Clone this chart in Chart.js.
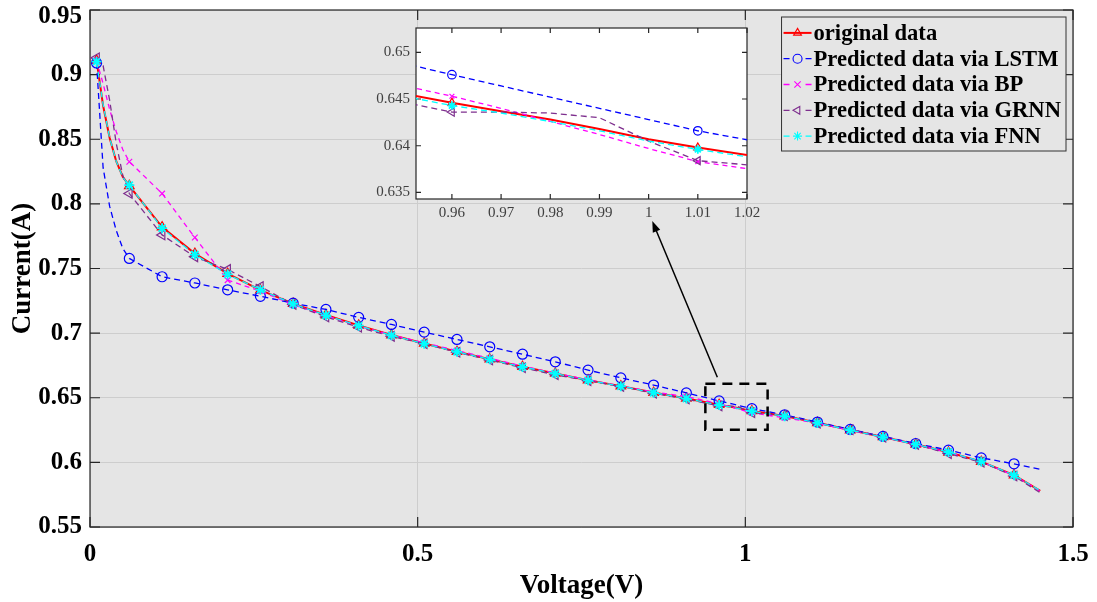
<!DOCTYPE html>
<html>
<head>
<meta charset="utf-8">
<script src="https://cdn.jsdelivr.net/npm/chart.js@4"></script>
<style>
  body { margin: 0; background: #fff; }
  #wrap { position: relative; width: 1097px; height: 602px; }
  #mainChart { position: absolute; left: 0; top: 0; }
  #insetChart { position: absolute; left: 360px; top: 15px; }
</style>
</head>
<body>
<div id="wrap">
  <canvas id="mainChart" width="1097" height="602"></canvas>
  <canvas id="insetChart" width="400" height="215"></canvas>
</div>
<script>
// voltage samples (markers sit on 0.01 + 0.05k)
const voltage = [0.01, 0.02, 0.03, 0.04, 0.05, 0.06, 0.11, 0.16, 0.21, 0.26, 0.31, 0.36, 0.41, 0.46,
  0.51, 0.56, 0.61, 0.66, 0.71, 0.76, 0.81, 0.86, 0.91, 0.96, 0.97, 0.98, 0.99, 1.00, 1.01,
  1.06, 1.11, 1.16, 1.21, 1.26, 1.31, 1.36, 1.41, 1.45];

const originalData = [0.911, 0.876, 0.851, 0.833, 0.821, 0.814, 0.782, 0.7615, 0.746, 0.7333, 0.7228, 0.714, 0.706, 0.6985,
  0.692, 0.6857, 0.6798, 0.674, 0.6688, 0.6636, 0.659, 0.654, 0.6495, 0.6446, 0.6437, 0.6428, 0.6418, 0.6407, 0.6398,
  0.6358, 0.6306, 0.625, 0.6197, 0.614, 0.6078, 0.6006, 0.5902, 0.578];
const lstmData = [0.909, 0.828, 0.798, 0.7795, 0.7655, 0.7578, 0.7436, 0.7388, 0.7335, 0.7285, 0.7232, 0.7183, 0.7122, 0.7067,
  0.7008, 0.6951, 0.6894, 0.6837, 0.6778, 0.6714, 0.6654, 0.6598, 0.6538, 0.6476, 0.6464, 0.6452, 0.644, 0.6428, 0.6416,
  0.6368, 0.6312, 0.6255, 0.6201, 0.6146, 0.6095, 0.6035, 0.5989, 0.5946];
const bpData = [0.911, 0.893, 0.873, 0.856, 0.842, 0.8326, 0.808, 0.774, 0.741, 0.7325, 0.722, 0.7135, 0.7055, 0.6985,
  0.6925, 0.6865, 0.6805, 0.6745, 0.669, 0.664, 0.659, 0.6545, 0.651, 0.6453, 0.644, 0.6426, 0.6412, 0.6397, 0.6383,
  0.6345, 0.6303, 0.6247, 0.6195, 0.6138, 0.6076, 0.6005, 0.5898, 0.5778];
const grnnData = [0.913, 0.907, 0.880, 0.847, 0.822, 0.808, 0.776, 0.759, 0.7493, 0.736, 0.7222, 0.7125, 0.7045, 0.6975,
  0.6918, 0.6852, 0.6792, 0.6732, 0.6678, 0.6632, 0.6588, 0.6535, 0.649, 0.6436, 0.6436, 0.6435, 0.643, 0.6405, 0.6384,
  0.6362, 0.6303, 0.6252, 0.6195, 0.6138, 0.6068, 0.6002, 0.5895, 0.5765];
const fnnData = [0.910, 0.877, 0.851, 0.833, 0.8205, 0.8145, 0.7812, 0.7608, 0.7455, 0.7335, 0.7226, 0.7138, 0.7058, 0.6983,
  0.6918, 0.6855, 0.6797, 0.6738, 0.6687, 0.6635, 0.6589, 0.6539, 0.6494, 0.6443, 0.6435, 0.6426, 0.6416, 0.6405, 0.6396,
  0.6357, 0.6305, 0.6249, 0.6196, 0.6139, 0.608, 0.6007, 0.5901, 0.5781];

const seriesNames = ['original data', 'Predicted data via LSTM', 'Predicted data via BP',
  'Predicted data via GRNN', 'Predicted data via FNN'];

const xTicks = [0, 0.5, 1, 1.5];
const yTicks = [0.55, 0.6, 0.65, 0.7, 0.75, 0.8, 0.85, 0.9, 0.95];
const insetXTicks = [0.96, 0.97, 0.98, 0.99, 1, 1.01, 1.02];
const insetYTicks = [0.635, 0.64, 0.645, 0.65];

// zoomed window (x0, x1, y0, y1) and the arrow to the inset, in data units
const zoomBox = [0.939, 1.034, 0.6253, 0.6609];
const arrowFrom = [0.9573, 0.6659];
const arrowTo = [0.858, 0.7867];

const serif = "'Liberation Serif', 'Times New Roman', serif";

const styles = [
  { color: '#ff0000', dash: [], width: 2, point: 'triangle', rot: 0, r: 5.5 },
  { color: '#0000ff', dash: [6, 4], width: 1.3, point: 'circle', rot: 0, r: 5 },
  { color: '#ff00ff', dash: [5, 4], width: 1.3, point: 'crossRot', rot: 0, r: 4 },
  { color: '#7e2f8e', dash: [6, 4], width: 1.3, point: 'triangle', rot: -90, r: 5.5 },
  { color: '#00ffff', dash: [6, 4], width: 1.3, point: 'star', rot: 0, r: 5 }
];

function hasMarker(i) {
  const v = voltage[i];
  return Math.round((v - 0.01) * 100) % 5 === 0 && v < 1.42;
}

function fmt(v) {
  return String(+(+v).toFixed(3));
}

function makeDatasets(markerScale) {
  return [originalData, lstmData, bpData, grnnData, fnnData].map((vals, s) => ({
    label: seriesNames[s],
    data: voltage.map((v, i) => ({ x: v, y: vals[i] })),
    borderColor: styles[s].color,
    borderWidth: styles[s].width,
    borderDash: styles[s].dash,
    pointStyle: styles[s].point,
    pointRotation: styles[s].rot,
    pointBorderColor: styles[s].color,
    pointBackgroundColor: 'rgba(0,0,0,0)',
    pointBorderWidth: s === 4 ? 1.8 : 1.2,
    pointRadius: ctx => hasMarker(ctx.dataIndex) ? styles[s].r * markerScale : 0,
    pointHoverRadius: 0,
    tension: 0,
    fill: false,
    order: 4 - s
  }));
}

// keep chart area where the layout padding puts it (no room for overflowing labels)
function fixX(h) {
  return s => { s.height = h; s.paddingLeft = 0; s.paddingRight = 0; };
}
function fixY(w) {
  return s => { s.width = w; s.paddingTop = 0; s.paddingBottom = 0; };
}

// fill plot area
const plotBg = {
  id: 'plotBg',
  beforeDraw(chart, args, opts) {
    const { ctx, chartArea: a } = chart;
    ctx.save();
    ctx.fillStyle = opts.color;
    ctx.fillRect(a.left, a.top, a.right - a.left, a.bottom - a.top);
    ctx.restore();
  }
};

// matlab style box with inward ticks on all sides
const axesBox = {
  id: 'axesBox',
  beforeDatasetsDraw(chart, args, opts) {
    const { ctx, chartArea: a, scales } = chart;
    const L = opts.tickLength;
    ctx.save();
    ctx.strokeStyle = opts.color;
    ctx.lineWidth = 1.2;
    ctx.strokeRect(a.left, a.top, a.right - a.left, a.bottom - a.top);
    ctx.beginPath();
    scales.x.ticks.forEach(t => {
      const px = scales.x.getPixelForValue(t.value);
      ctx.moveTo(px, a.bottom); ctx.lineTo(px, a.bottom - L);
      ctx.moveTo(px, a.top); ctx.lineTo(px, a.top + L);
    });
    scales.y.ticks.forEach(t => {
      const py = scales.y.getPixelForValue(t.value);
      ctx.moveTo(a.left, py); ctx.lineTo(a.left + L, py);
      ctx.moveTo(a.right, py); ctx.lineTo(a.right - L, py);
    });
    ctx.stroke();
    ctx.restore();
  }
};

// dashed window + arrow
const zoomMark = {
  id: 'zoomMark',
  afterDatasetsDraw(chart) {
    const { ctx, scales: { x, y } } = chart;
    const x0 = x.getPixelForValue(zoomBox[0]), x1 = x.getPixelForValue(zoomBox[1]);
    const y0 = y.getPixelForValue(zoomBox[2]), y1 = y.getPixelForValue(zoomBox[3]);
    ctx.save();
    ctx.strokeStyle = '#000';
    ctx.lineWidth = 2.5;
    ctx.setLineDash([10, 7]);
    ctx.strokeRect(x0, y1, x1 - x0, y0 - y1);
    ctx.setLineDash([]);
    const ax = x.getPixelForValue(arrowFrom[0]), ay = y.getPixelForValue(arrowFrom[1]);
    const bx = x.getPixelForValue(arrowTo[0]), by = y.getPixelForValue(arrowTo[1]);
    const ang = Math.atan2(by - ay, bx - ax);
    ctx.lineWidth = 1.5;
    ctx.beginPath();
    ctx.moveTo(ax, ay);
    ctx.lineTo(bx - 8 * Math.cos(ang), by - 8 * Math.sin(ang));
    ctx.stroke();
    ctx.fillStyle = '#000';
    ctx.beginPath();
    ctx.moveTo(bx, by);
    ctx.lineTo(bx - 11 * Math.cos(ang) + 4 * Math.sin(ang), by - 11 * Math.sin(ang) - 4 * Math.cos(ang));
    ctx.lineTo(bx - 11 * Math.cos(ang) - 4 * Math.sin(ang), by - 11 * Math.sin(ang) + 4 * Math.cos(ang));
    ctx.closePath();
    ctx.fill();
    ctx.restore();
  }
};

// legend box in the top right of the plot
const boxLegend = {
  id: 'boxLegend',
  afterDraw(chart, args, opts) {
    const { ctx, chartArea: a } = chart;
    const sets = chart.data.datasets;
    ctx.save();
    ctx.font = 'bold 22.6px ' + serif;
    const textW = Math.max(...sets.map(d => ctx.measureText(d.label).width));
    const sample = 28, rowH = 25.8;
    const w = 3 + sample + 2 + textW + 4;
    const h = sets.length * rowH + 5;
    const right = a.right - 7, top = a.top + 7;
    const left = right - w;
    ctx.fillStyle = '#e5e5e5';
    ctx.fillRect(left, top, w, h);
    ctx.strokeStyle = '#333';
    ctx.lineWidth = 1;
    ctx.strokeRect(left, top, w, h);
    sets.forEach((d, i) => {
      const cy = top + 3 + rowH * (i + 0.5);
      const x0 = left + 2;
      ctx.strokeStyle = d.borderColor;
      ctx.lineWidth = d.borderWidth;
      ctx.beginPath();
      if (d.borderDash.length) {
        ctx.moveTo(x0, cy); ctx.lineTo(x0 + 6, cy);
        ctx.moveTo(x0 + sample - 6, cy); ctx.lineTo(x0 + sample, cy);
      } else {
        ctx.moveTo(x0, cy); ctx.lineTo(x0 + sample, cy);
      }
      ctx.stroke();
      ctx.fillStyle = 'rgba(0,0,0,0)';
      ctx.lineWidth = 1.1;
      Chart.helpers.drawPoint(ctx, { pointStyle: d.pointStyle, rotation: d.pointRotation,
        radius: 4.5, borderWidth: 1.1 }, x0 + sample / 2, cy);
      ctx.fillStyle = '#000';
      ctx.textBaseline = 'middle';
      ctx.fillText(d.label, x0 + sample + 2, cy + 1);
    });
    ctx.restore();
  }
};

const tickFont = { family: serif, weight: 'bold', size: 25 };
// small line height so the top label (given an empty first line) sits a bit lower, as in matlab
const yTickFont = { family: serif, weight: 'bold', size: 25, lineHeight: 0.56 };
const titleFont = { family: serif, weight: 'bold', size: 27 };

new Chart(document.getElementById('mainChart'), {
  type: 'line',
  data: { datasets: makeDatasets(1) },
  options: {
    responsive: false,
    animation: false,
    layout: { padding: { left: 0, top: 10, right: 24, bottom: 0 }, autoPadding: false },
    plugins: {
      legend: { display: false },
      tooltip: { enabled: false },
      plotBg: { color: '#e5e5e5' },
      axesBox: { color: '#262626', tickLength: 10 }
    },
    scales: {
      x: {
        type: 'linear', min: 0, max: 1.5,
        afterFit: fixX(75),
        afterBuildTicks: s => { s.ticks = xTicks.map(v => ({ value: v })); },
        grid: { color: '#cdcdcd', drawTicks: false },
        border: { display: false },
        ticks: { padding: 13, color: '#000', font: tickFont, maxRotation: 0, callback: v => fmt(v) },
        title: { display: true, text: 'Voltage(V)', color: '#000', font: titleFont,
          padding: { top: 0, bottom: 0 } }
      },
      y: {
        type: 'linear', min: 0.55, max: 0.95,
        afterFit: fixY(90),
        afterBuildTicks: s => { s.ticks = yTicks.map(v => ({ value: v })); },
        grid: { color: '#cdcdcd', drawTicks: false },
        border: { display: false },
        ticks: { padding: 8, color: '#000', font: yTickFont,
          callback: (v, i, all) => i === all.length - 1 ? ['', fmt(v)] : fmt(v) },
        title: { display: true, text: 'Current(A)', color: '#000', font: titleFont,
          padding: { top: 7, bottom: 0 } }
      }
    }
  },
  plugins: [plotBg, axesBox, zoomMark, boxLegend]
});

const insetFont = { family: serif, size: 15 };

new Chart(document.getElementById('insetChart'), {
  type: 'line',
  data: { datasets: makeDatasets(0.85) },
  options: {
    responsive: false,
    animation: false,
    layout: { padding: { left: 0, top: 13, right: 13, bottom: 0 }, autoPadding: false },
    plugins: {
      legend: { display: false },
      tooltip: { enabled: false },
      plotBg: { color: '#ffffff' },
      axesBox: { color: '#262626', tickLength: 5 }
    },
    scales: {
      x: {
        type: 'linear', min: 0.9527, max: 1.02,
        afterFit: fixX(31),
        afterBuildTicks: s => { s.ticks = insetXTicks.map(v => ({ value: v })); },
        grid: { display: false, drawTicks: false },
        border: { display: false },
        ticks: { padding: 5, color: '#404040', font: insetFont, maxRotation: 0, callback: v => fmt(v) }
      },
      y: {
        type: 'linear', min: 0.6343, max: 0.6526,
        afterFit: fixY(56),
        afterBuildTicks: s => { s.ticks = insetYTicks.map(v => ({ value: v })); },
        grid: { display: false, drawTicks: false },
        border: { display: false },
        ticks: { padding: 6, color: '#404040', font: insetFont, callback: v => fmt(v) }
      }
    }
  },
  plugins: [plotBg, axesBox]
});
</script>
</body>
</html>
